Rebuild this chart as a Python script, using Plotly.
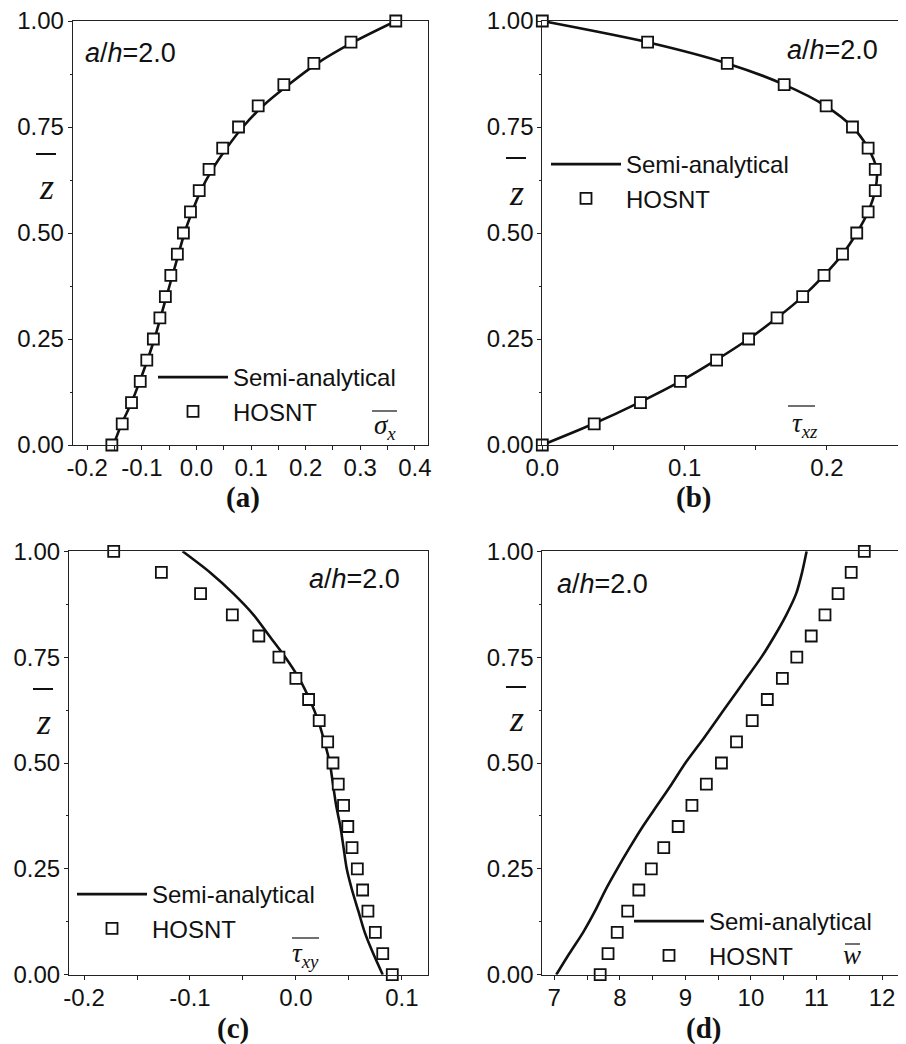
import plotly.graph_objects as go

# page body adds an 8px margin; the figure is sized/positioned to compensate
OFF = 8
W, H = 906 - OFF, 1044 - OFF

# ---------------- data ----------------
z_levels = [0.00, 0.05, 0.10, 0.15, 0.20, 0.25, 0.30, 0.35, 0.40, 0.45, 0.50,
            0.55, 0.60, 0.65, 0.70, 0.75, 0.80, 0.85, 0.90, 0.95, 1.00]

# (a) sigma_x
semi_a = [-0.152, -0.137, -0.119, -0.104, -0.090, -0.077, -0.066, -0.055, -0.044, -0.033, -0.022,
          -0.008, 0.008, 0.029, 0.055, 0.085, 0.122, 0.169, 0.221, 0.287, 0.365]
hosnt_a = [-0.155, -0.136, -0.119, -0.103, -0.091, -0.079, -0.067, -0.057, -0.047, -0.035, -0.024,
           -0.011, 0.005, 0.023, 0.048, 0.077, 0.113, 0.160, 0.215, 0.283, 0.365]

# (b) tau_xz
semi_b = [0.000, 0.036, 0.068, 0.097, 0.122, 0.145, 0.165, 0.183, 0.198, 0.211, 0.221,
          0.229, 0.234, 0.235, 0.229, 0.218, 0.199, 0.170, 0.130, 0.074, 0.000]
hosnt_b = [0.000, 0.0365, 0.069, 0.097, 0.1225, 0.145, 0.165, 0.183, 0.198, 0.211, 0.221,
           0.229, 0.234, 0.234, 0.229, 0.218, 0.1995, 0.170, 0.130, 0.074, 0.000]

# (c) tau_xy
semi_c = [0.082, 0.073, 0.065, 0.059, 0.053, 0.048, 0.045, 0.042, 0.038, 0.035, 0.032,
          0.027, 0.021, 0.013, 0.003, -0.010, -0.025, -0.040, -0.059, -0.081, -0.107]
hosnt_c = [0.091, 0.082, 0.075, 0.068, 0.063, 0.058, 0.053, 0.049, 0.045, 0.040, 0.035,
           0.030, 0.022, 0.012, 0.000, -0.016, -0.035, -0.060, -0.090, -0.127, -0.172]

# (d) w
semi_d = [7.03, 7.23, 7.44, 7.62, 7.78, 7.96, 8.15, 8.35, 8.57, 8.79, 9.00,
          9.24, 9.47, 9.70, 9.93, 10.16, 10.36, 10.54, 10.69, 10.78, 10.85]
hosnt_d = [7.70, 7.82, 7.96, 8.12, 8.29, 8.48, 8.67, 8.89, 9.10, 9.32, 9.55,
           9.78, 10.02, 10.25, 10.48, 10.70, 10.92, 11.13, 11.33, 11.53, 11.73]

y_tickvals = [0.0, 0.25, 0.5, 0.75, 1.0]
y_ticktext = ["0.00", "0.25", "0.50", "0.75", "1.00"]

xa_tickvals = [-0.2, -0.1, 0.0, 0.1, 0.2, 0.3, 0.4]
xa_ticktext = ["-0.2", "-0.1", "0.0", "0.1", "0.2", "0.3", "0.4"]
xb_tickvals = [0.0, 0.1, 0.2]
xb_ticktext = ["0.0", "0.1", "0.2"]
xc_tickvals = [-0.2, -0.1, 0.0, 0.1]
xc_ticktext = ["-0.2", "-0.1", "0.0", "0.1"]
xd_tickvals = [7, 8, 9, 10, 11, 12]
xd_ticktext = ["7", "8", "9", "10", "11", "12"]

series_names = ["Semi-analytical", "HOSNT"]
panel_labels = ["(a)", "(b)", "(c)", "(d)"]
var_labels = ["<i>σ</i><sub><i>x</i></sub>", "<i>τ</i><sub><i>xz</i></sub>",
              "<i>τ</i><sub><i>xy</i></sub>", "<i>w</i>"]
ratio_text = "<i>a</i>/<i>h</i>=2.0"

# ---------------- layout helpers (page pixels -> paper fractions) ----------------
def px(x):
    return (x - OFF) / W

def py(y):
    return 1 - (y - OFF) / H

SANS = "Arial, Liberation Sans, Helvetica, sans-serif"
SERIF = "Times New Roman, Liberation Serif, serif"

panels = [
    dict(x0=72.7, x1=428, y0=21, y1=445, rng=[-0.2267, 0.424], tv=xa_tickvals, tt=xa_ticktext, minor=0.05,
         semi=semi_a, hosnt=hosnt_a),
    dict(x0=542.3, x1=898, y0=21, y1=445, rng=[0.0, 0.25], tv=xb_tickvals, tt=xb_ticktext, minor=0.05,
         semi=semi_b, hosnt=hosnt_b),
    dict(x0=69, x1=428.3, y0=551.3, y1=974.7, rng=[-0.2142, 0.125], tv=xc_tickvals, tt=xc_ticktext, minor=0.05,
         semi=semi_c, hosnt=hosnt_c),
    dict(x0=542.3, x1=898, y0=551.3, y1=974.7, rng=[6.817, 12.244], tv=xd_tickvals, tt=xd_ticktext, minor=0.5,
         semi=semi_d, hosnt=hosnt_d),
]

# legend anchor (top-left of the legend box), in page pixels
legend_pos = [(153, 355), (546, 142), (72, 872), (629, 899)]

fig = go.Figure()
layout = dict(
    width=W, height=H, margin=dict(l=0, r=0, t=0, b=0, pad=0, autoexpand=False),
    paper_bgcolor="white", plot_bgcolor="white",
    font=dict(family=SANS, color="black", size=23),
    showlegend=True,
)
annotations = []
shapes = []

for i, p in enumerate(panels):
    n = "" if i == 0 else str(i + 1)
    xa, ya = "x" + n, "y" + n
    lg = "legend" + n
    fig.add_trace(go.Scatter(
        x=p["semi"], y=z_levels, mode="lines", name=series_names[0],
        line=dict(color="#111111", width=2.6, shape="spline", smoothing=0.8),
        xaxis=xa, yaxis=ya, legend=lg, cliponaxis=False))
    fig.add_trace(go.Scatter(
        x=p["hosnt"], y=z_levels, mode="markers", name=series_names[1],
        marker=dict(symbol="square", size=11, color="white", line=dict(color="#111111", width=1.8)),
        xaxis=xa, yaxis=ya, legend=lg, cliponaxis=False))

    axis_common = dict(
        showgrid=False, zeroline=False, showline=True, linecolor="#222222", linewidth=1,
        mirror=True, ticks="outside", ticklen=4, tickwidth=1, tickcolor="#222222",
        tickfont=dict(family=SANS, size=24, color="#111111"), automargin=False,
        ticklabeloverflow="allow",
    )
    layout["xaxis" + n] = dict(
        axis_common, domain=[px(p["x0"]), px(p["x1"])], range=p["rng"], anchor=ya,
        tickmode="array", tickvals=p["tv"], ticktext=p["tt"],
        minor=dict(tickmode="linear", tick0=0, dtick=p["minor"], ticks="outside", ticklen=4,
                   tickcolor="#222222", showgrid=False),
        ticklabelstandoff=-3,
    )
    layout["yaxis" + n] = dict(
        axis_common, domain=[py(p["y1"]), py(p["y0"])], range=[0, 1], anchor=xa,
        tickmode="array", tickvals=y_tickvals, ticktext=y_ticktext,
        minor=dict(tickmode="linear", tick0=0, dtick=0.125, ticks="outside", ticklen=2,
                   tickcolor="#222222", showgrid=False),
        ticklabelstandoff=-1,
    )
    lx, ly = legend_pos[i]
    layout[lg] = dict(
        x=px(lx), y=py(ly), xanchor="left", yanchor="top",
        bgcolor="rgba(0,0,0,0)", borderwidth=0,
        font=dict(family=SANS, size=24, color="#111111"),
        itemwidth=70, tracegroupgap=0,
    )

# ratio texts
ratio_pos = [(83, 53, "left"), (880, 50, "right"), (402, 579, "right"), (555, 584, "left")]
for (x, y, anc) in ratio_pos:
    annotations.append(dict(xref="paper", yref="paper", x=px(x), y=py(y), text=ratio_text,
                            showarrow=False, xanchor=anc, yanchor="middle",
                            font=dict(family=SANS, size=27, color="#111111")))

# panel labels
label_pos = [(243, 497), (693, 497), (233, 1028), (703, 1028)]
for (x, y), t in zip(label_pos, panel_labels):
    annotations.append(dict(xref="paper", yref="paper", x=px(x), y=py(y), text="<b>" + t + "</b>",
                            showarrow=False, xanchor="center", yanchor="middle",
                            font=dict(family=SERIF, size=29, color="#111111")))

# y-axis label z with overbar
zlab_pos = [(46, 187, 154), (516, 193, 158), (43, 722, 689), (516, 719, 687)]
for (x, y, yb) in zlab_pos:
    annotations.append(dict(xref="paper", yref="paper", x=px(x), y=py(y), text="<i>z</i>",
                            showarrow=False, xanchor="center", yanchor="middle",
                            font=dict(family=SERIF, size=36, color="#111111")))
    shapes.append(dict(type="line", xref="paper", yref="paper", x0=px(x - 10), x1=px(x + 10),
                       y0=py(yb), y1=py(yb), line=dict(color="#111111", width=2)))

# variable labels inside the plots with overbar
var_pos = [(385, 427, 372, 397, 411), (805, 425, 788, 815, 406),
           (305, 955, 292, 319, 938), (852, 955, 845, 860, 944)]
for (x, y, b0, b1, yb), t in zip(var_pos, var_labels):
    annotations.append(dict(xref="paper", yref="paper", x=px(x), y=py(y), text=t,
                            showarrow=False, xanchor="center", yanchor="middle",
                            font=dict(family=SERIF, size=27, color="#111111")))
    shapes.append(dict(type="line", xref="paper", yref="paper", x0=px(b0), x1=px(b1),
                       y0=py(yb), y1=py(yb), line=dict(color="#111111", width=1.2)))

layout["annotations"] = annotations
layout["shapes"] = shapes
fig.update_layout(**layout)
fig.write_html("out.html")
